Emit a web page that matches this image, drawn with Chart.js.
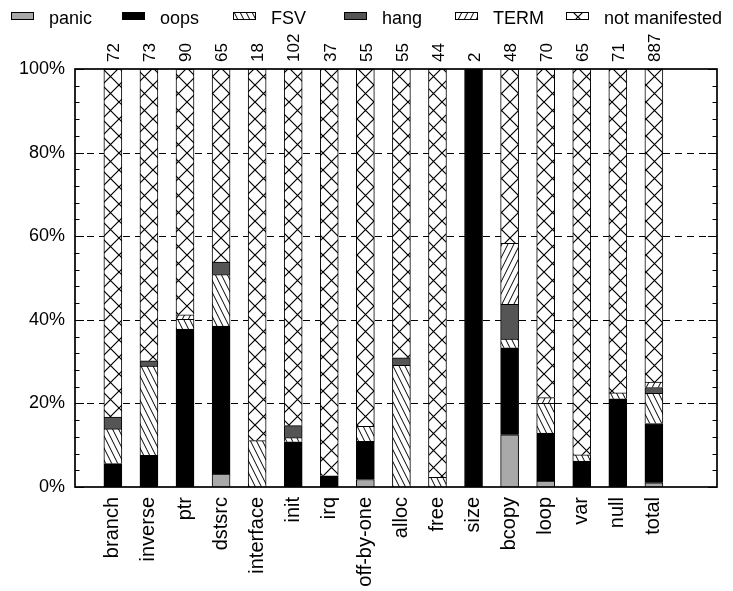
<!DOCTYPE html>
<html lang="en">
<head>
<meta charset="UTF-8">
<title>Fault injection outcomes</title>
<script src="https://cdn.jsdelivr.net/npm/chart.js@4.4.0/dist/chart.umd.min.js"></script>
<style>
  body { margin: 0; background: #fff; }
  #wrap { width: 733px; height: 591px; }
</style>
</head>
<body>
<div id="wrap"><canvas id="chart" width="733" height="591"></canvas></div>
<script>
const categories = ['branch', 'inverse', 'ptr', 'dstsrc', 'interface', 'init', 'irq', 'off-by-one',
  'alloc', 'free', 'size', 'bcopy', 'loop', 'var', 'null', 'total'];
const counts = [72, 73, 90, 65, 18, 102, 37, 55, 55, 44, 2, 48, 70, 65, 71, 887];

// share of injections per outcome, in percent
const panic = [0, 0, 0, 3.1, 0, 0, 0, 1.8, 0, 0, 0, 12.5, 1.4, 0, 0, 1.0];
const oops = [5.6, 7.6, 37.8, 35.4, 0, 10.8, 2.7, 9.1, 0, 0, 100, 20.8, 11.5, 6.2, 21.1, 14.2];
const fsv = [8.3, 21.3, 2.3, 12.3, 11.1, 1.0, 0, 3.6, 29.1, 2.3, 0, 2.1, 7.1, 1.5, 1.4, 7.2];
const hang = [2.8, 1.3, 0, 3.0, 0, 2.9, 0, 0, 1.8, 0, 0, 8.3, 0, 0, 0, 1.4];
const term = [0, 0, 1.1, 0, 0, 0, 0, 0, 0, 0, 0, 14.6, 1.4, 0, 0, 1.3];
const notManifested = [83.3, 69.8, 58.8, 46.2, 88.9, 85.3, 97.3, 85.5, 69.1, 97.7, 0, 41.7, 78.6, 92.3, 77.5, 74.9];

const FONT = '"Liberation Sans", Arial, Helvetica, sans-serif';
const ctx = document.getElementById('chart').getContext('2d');

// gnuplot-like fill patterns
function hatch(kind) {
  const c = document.createElement('canvas');
  const w = kind === 'cross' ? 17 : 6;
  const h = kind === 'cross' ? 17 : 12;
  c.width = w; c.height = h;
  const g = c.getContext('2d');
  g.fillStyle = '#fff';
  g.fillRect(0, 0, w, h);
  g.strokeStyle = '#000';
  g.lineWidth = kind === 'cross' ? 1.2 : 1;
  g.beginPath();
  if (kind === 'back') {
    for (let k = -1; k <= 1; k++) { g.moveTo(k * w, 0); g.lineTo(k * w + w, h); }
  } else if (kind === 'fwd') {
    for (let k = -1; k <= 1; k++) { g.moveTo(k * w, h); g.lineTo(k * w + w, 0); }
  } else {
    g.moveTo(0, 0); g.lineTo(w, h);
    g.moveTo(w, 0); g.lineTo(0, h);
  }
  g.stroke();
  return ctx.createPattern(c, 'repeat');
}

const series = [
  { label: 'panic', values: panic, fill: '#a9a9a9' },
  { label: 'oops', values: oops, fill: '#000000' },
  { label: 'FSV', values: fsv, fill: hatch('back') },
  { label: 'hang', values: hang, fill: '#555555' },
  { label: 'TERM', values: term, fill: hatch('fwd') },
  { label: 'not manifested', values: notManifested, fill: hatch('cross') }
];

const xMin = -1.05, xMax = 16.75;
const catTicks = s => { s.ticks = categories.map((c, i) => ({ value: i })); };

// legend in fixed columns, like gnuplot's key
const keyPlugin = {
  id: 'key',
  afterDraw(chart) {
    const c = chart.ctx;
    c.save();
    c.font = '18px ' + FONT;
    c.textBaseline = 'alphabetic';
    chart.data.datasets.forEach((ds, i) => {
      const x = 11 + i * 111;
      c.fillStyle = ds.backgroundColor;
      c.fillRect(x, 12, 23, 8);
      c.strokeStyle = '#000';
      c.lineWidth = 1;
      c.strokeRect(x + 0.5, 12.5, 22, 7);
      c.fillStyle = '#000';
      c.fillText(ds.label, x + 38, 23.5);
    });
    c.restore();
  }
};

// dashed grid, border box and inward tics
const framePlugin = {
  id: 'frame',
  beforeDatasetsDraw(chart) {
    const { ctx: c, chartArea: a, scales: { y } } = chart;
    c.save();
    c.strokeStyle = '#000';
    c.lineWidth = 1;
    c.setLineDash([7, 5]);
    y.ticks.forEach(t => {
      if (t.value % 20 === 0 && t.value > 0 && t.value < 100) {
        const py = Math.round(y.getPixelForValue(t.value)) + 0.5;
        c.beginPath(); c.moveTo(a.left, py); c.lineTo(a.right, py); c.stroke();
      }
    });
    c.restore();
  },
  afterDatasetsDraw(chart) {
    const { ctx: c, chartArea: a, scales: { y } } = chart;
    c.save();
    c.strokeStyle = '#000';
    c.lineWidth = 1;
    y.ticks.forEach(t => {
      const py = Math.round(y.getPixelForValue(t.value)) + 0.5;
      const len = t.value % 20 === 0 ? 9 : 4.5;
      c.beginPath();
      c.moveTo(a.left, py); c.lineTo(a.left + len, py);
      c.moveTo(a.right, py); c.lineTo(a.right - len, py);
      c.stroke();
    });
    c.lineWidth = 1.7;
    c.strokeRect(a.left, a.top, a.right - a.left, a.bottom - a.top);
    c.restore();
  }
};

new Chart(ctx, {
  type: 'bar',
  data: {
    datasets: series.map(s => ({
      label: s.label,
      data: s.values.map((v, i) => ({ x: i, y: v || null })),
      backgroundColor: s.fill,
      borderColor: '#000',
      borderWidth: 1,
      barThickness: 18
    }))
  },
  options: {
    responsive: false,
    animation: false,
    layout: { padding: { left: 0, right: 16, top: 0, bottom: 0 } },
    plugins: { legend: { display: false }, tooltip: { enabled: false } },
    scales: {
      x: {
        type: 'linear', min: xMin, max: xMax, stacked: true, offset: false,
        afterBuildTicks: catTicks,
        afterFit: s => { s.height = 104; },
        grid: { display: false, drawTicks: false, offset: false },
        border: { display: false },
        ticks: {
          autoSkip: false, minRotation: 90, maxRotation: 90, padding: 10, color: '#000',
          font: { family: FONT, size: 20 },
          callback: v => categories[v]
        }
      },
      top: {
        type: 'linear', position: 'top', min: xMin, max: xMax, offset: false,
        afterBuildTicks: catTicks,
        afterFit: s => { s.height = 69; },
        grid: { display: false, drawTicks: false },
        border: { display: false },
        ticks: {
          autoSkip: false, minRotation: 90, maxRotation: 90, padding: 7, labelOffset: 22,
          color: '#000', font: { family: FONT, size: 17 },
          callback: v => counts[v]
        }
      },
      y: {
        stacked: true, min: 0, max: 100,
        afterFit: s => { s.width = 75; },
        grid: { display: false, drawTicks: false },
        border: { display: false },
        ticks: {
          stepSize: 4, autoSkip: false, padding: 10, color: '#000',
          font: { family: FONT, size: 18 },
          callback: v => (v % 20 === 0 ? v + '%' : '')
        }
      }
    }
  },
  plugins: [framePlugin, keyPlugin]
});
</script>
</body>
</html>
